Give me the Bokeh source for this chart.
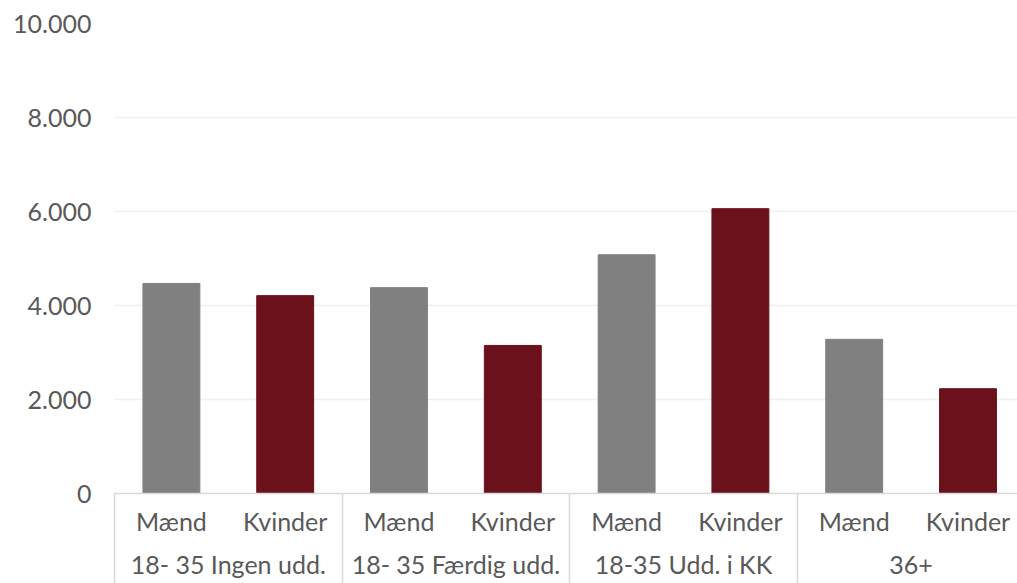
from bokeh.plotting import figure
from bokeh.models import Range1d, FixedTicker, ColumnDataSource, LinearAxis
from bokeh.embed import file_html
from bokeh.resources import INLINE

# ---- data ----
groups = ["18- 35 Ingen udd.", "18- 35 Færdig udd.", "18-35 Udd. i KK", "36+"]
genders = ["Mænd", "Kvinder"]
maend = [4470, 4380, 5080, 3280]
kvinder = [4210, 3150, 6060, 2230]
y_ticks = [0, 2000, 4000, 6000, 8000, 10000]
y_tick_labels = ["0", "2.000", "4.000", "6.000", "8.000", "10.000"]

GRAY = "#808080"
RED = "#6b111b"
TEXT = "#595959"
FONT = "Lato"
FS = "25px"

W, H = 1017, 583
LEFT, TOP, BOTTOM = 114, 23, 90
Y_MAX = 10000

# positions on a numeric categorical scale (each bar slot = 1 unit)
xs, tops, cols, sub_ticks, sub_labels = [], [], [], [], []
for i, g in enumerate(groups):
    for j, (gen, vals, c) in enumerate(zip(genders, [maend, kvinder], [GRAY, RED])):
        x = i * 2 + j + 0.5
        xs.append(x)
        tops.append(vals[i])
        cols.append(c)
        sub_ticks.append(x)
        sub_labels.append(gen)
group_ticks = [i * 2 + 1 for i in range(len(groups))]
sep_ticks = [i * 2 for i in range(len(groups))]

slot_px = 113.8
frame_w = W - LEFT
src = ColumnDataSource(dict(x=xs, top=tops, color=cols))

p = figure(width=W, height=H, output_backend="svg", toolbar_location=None,
           x_range=Range1d(0, frame_w / slot_px), y_range=Range1d(0, Y_MAX),
           min_border_left=LEFT, min_border_right=0, min_border_top=TOP,
           min_border_bottom=BOTTOM)
p.outline_line_color = None
p.background_fill_color = "white"

p.vbar(x="x", top="top", bottom=0, width=0.5, color="color", source=src)

# y axis
ya = p.yaxis[0]
ya.ticker = FixedTicker(ticks=y_ticks)
ya.major_label_overrides = {t: l for t, l in zip(y_ticks, y_tick_labels)}
ya.axis_line_color = None
ya.major_tick_line_color = None
ya.minor_tick_line_color = None
ya.major_tick_out = 0
ya.minor_tick_out = 0
ya.major_label_standoff = 23
ya.major_label_text_font = FONT
ya.major_label_text_font_size = FS
ya.major_label_text_color = TEXT

p.ygrid[0].ticker = FixedTicker(ticks=y_ticks)
p.ygrid[0].grid_line_color = "#efefef"
p.ygrid[0].grid_line_width = 1.5
p.xgrid[0].visible = False

# x axis level 1 (gender) + group separators as minor ticks
xa = p.xaxis[0]
xa.ticker = FixedTicker(ticks=sub_ticks, minor_ticks=sep_ticks)
xa.major_label_overrides = {t: l for t, l in zip(sub_ticks, sub_labels)}
xa.axis_line_color = "#d9d9d9"
xa.axis_line_width = 1.5
xa.major_tick_line_color = None
xa.minor_tick_line_color = "#d9d9d9"
xa.minor_tick_line_width = 1.5
xa.minor_tick_in = 0
xa.minor_tick_out = BOTTOM
xa.major_tick_out = 0
xa.major_tick_in = 0
xa.major_label_standoff = 12 - BOTTOM
xa.major_label_text_font = FONT
xa.major_label_text_font_size = FS
xa.major_label_text_color = TEXT

# x axis level 2 (groups)
xb = LinearAxis(ticker=FixedTicker(ticks=group_ticks),
                major_label_overrides={t: l for t, l in zip(group_ticks, groups)})
xb.axis_line_color = None
xb.major_tick_line_color = None
xb.minor_tick_line_color = None
xb.major_tick_out = 0
xb.major_tick_in = 0
xb.minor_tick_out = 0
xb.minor_tick_in = 0
xb.major_label_standoff = 10
xb.major_label_text_font = FONT
xb.major_label_text_font_size = FS
xb.major_label_text_color = TEXT
p.add_layout(xb, "below")

open("out.html", "w").write(file_html(p, INLINE))
